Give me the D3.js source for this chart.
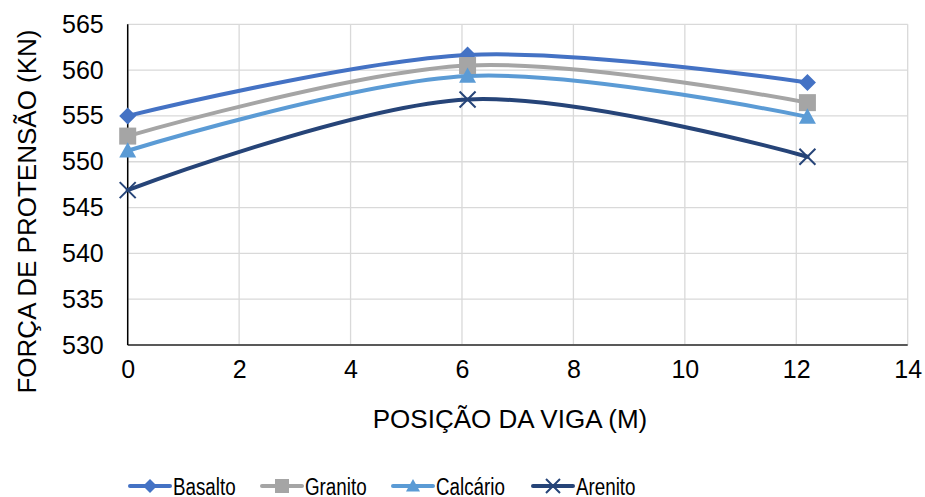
<!DOCTYPE html>
<html>
<head>
<meta charset="utf-8">
<script src="https://cdn.jsdelivr.net/npm/d3@7"></script>
<style>
  body { margin: 0; background: #fff; }
  svg { font-family: "Liberation Sans", Arial, sans-serif; }
</style>
</head>
<body>
<div id="chart"></div>
<script>
// positions along the beam (m)
const posicoes = [0, 6.1, 12.2];

const basalto = [555.0, 561.65, 558.65];
const granito = [552.8, 560.5, 556.45];
const calcario = [551.2, 559.35, 554.9];
const arenito = [546.9, 556.8, 550.55];

const seriesNames = ['Basalto', 'Granito', 'Calcário', 'Arenito'];
const xTicks = [0, 2, 4, 6, 8, 10, 12, 14];
const yTicks = [530, 535, 540, 545, 550, 555, 560, 565];

const width = 925, height = 497;
const margin = {top: 24.3, right: 17.3, bottom: 152, left: 127.7};

const series = [
  {name: seriesNames[0], values: basalto, color: '#4472C4', marker: 'diamond'},
  {name: seriesNames[1], values: granito, color: '#A5A5A5', marker: 'square'},
  {name: seriesNames[2], values: calcario, color: '#5B9BD5', marker: 'triangle'},
  {name: seriesNames[3], values: arenito, color: '#264478', marker: 'cross'}
];

const svg = d3.select('#chart')
  .append('svg')
    .attr('width', width)
    .attr('height', height);

const x = d3.scaleLinear()
  .domain([0, 14])
  .range([margin.left, width - margin.right]);

const y = d3.scaleLinear()
  .domain([530, 565])
  .range([height - margin.bottom, margin.top]);

// gridlines
svg.append('g')
  .selectAll('line.h')
  .data(yTicks)
  .join('line')
    .attr('x1', x(0)).attr('x2', x(14))
    .attr('y1', d => y(d)).attr('y2', d => y(d))
    .attr('stroke', '#d9d9d9')
    .attr('stroke-width', 1.3);

svg.append('g')
  .selectAll('line.v')
  .data(xTicks)
  .join('line')
    .attr('x1', d => x(d)).attr('x2', d => x(d))
    .attr('y1', y(530)).attr('y2', y(565))
    .attr('stroke', '#d9d9d9')
    .attr('stroke-width', 1.3);

// axes lines
svg.append('line')
  .attr('x1', x(0)).attr('x2', x(14))
  .attr('y1', y(530)).attr('y2', y(530))
  .attr('stroke', '#595959')
  .attr('stroke-width', 2);

svg.append('line')
  .attr('x1', x(0)).attr('x2', x(0))
  .attr('y1', y(530)).attr('y2', y(565))
  .attr('stroke', '#000')
  .attr('stroke-width', 1.5);

// tick labels
const yAxis = svg.append('g')
  .attr('transform', `translate(${x(0)},0)`)
  .call(d3.axisLeft(y).tickValues(yTicks).tickSize(0).tickPadding(24));
yAxis.select('.domain').remove();
yAxis.selectAll('text')
  .attr('font-size', 25)
  .attr('font-family', '"Liberation Sans", Arial, sans-serif')
  .attr('fill', '#000');

const xAxis = svg.append('g')
  .attr('transform', `translate(0,${y(530)})`)
  .call(d3.axisBottom(x).tickValues(xTicks).tickSize(0).tickPadding(15));
xAxis.select('.domain').remove();
xAxis.selectAll('text')
  .attr('font-size', 25)
  .attr('font-family', '"Liberation Sans", Arial, sans-serif')
  .attr('fill', '#000');

// axis titles
svg.append('text')
  .attr('x', 510)
  .attr('y', 428)
  .attr('text-anchor', 'middle')
  .attr('font-size', 26)
  .attr('fill', '#000')
  .text('POSIÇÃO DA VIGA (M)');

svg.append('text')
  .attr('transform', 'translate(36,211.5) rotate(-90)')
  .attr('text-anchor', 'middle')
  .attr('font-size', 26)
  .attr('fill', '#000')
  .text('FORÇA DE PROTENSÃO (KN)');

// markers
function drawMarker(g, type, color, size) {
  const s = size / 2;
  if (type === 'diamond') {
    g.append('path').attr('d', `M0,${-s}L${s},0L0,${s}L${-s},0Z`).attr('fill', color);
  } else if (type === 'square') {
    g.append('rect').attr('x', -s).attr('y', -s).attr('width', size).attr('height', size).attr('fill', color);
  } else if (type === 'triangle') {
    g.append('path').attr('d', `M0,${-s}L${s},${s * 0.8}L${-s},${s * 0.8}Z`).attr('fill', color);
  } else {
    g.append('path').attr('d', `M${-s},${-s}L${s},${s}M${-s},${s}L${s},${-s}`)
      .attr('stroke', color).attr('stroke-width', 2).attr('fill', 'none');
  }
}

const line = d3.line()
  .curve(d3.curveCardinal.tension(0))
  .x((d, i) => x(posicoes[i]))
  .y(d => y(d));

series.forEach(s => {
  svg.append('path')
    .datum(s.values)
    .attr('fill', 'none')
    .attr('stroke', s.color)
    .attr('stroke-width', 4)
    .attr('stroke-linecap', 'round')
    .attr('d', line);
});

series.forEach(s => {
  s.values.forEach((v, i) => {
    const g = svg.append('g').attr('transform', `translate(${x(posicoes[i])},${y(v)})`);
    drawMarker(g, s.marker, s.color, s.marker === 'cross' ? 16 : 17);
  });
});

// legend (text is condensed like Arial Narrow)
const legendX = [130, 262, 393, 533];
const legend = svg.append('g');
series.forEach((s, i) => {
  const g = legend.append('g').attr('transform', `translate(${legendX[i]},486)`);
  g.append('line')
    .attr('x1', 0).attr('x2', 40)
    .attr('stroke', s.color)
    .attr('stroke-width', 4)
    .attr('stroke-linecap', 'round');
  const m = g.append('g').attr('transform', 'translate(20,0)');
  drawMarker(m, s.marker, s.color, 14);
  g.append('text')
    .attr('transform', 'translate(43,8.5) scale(0.8,1)')
    .attr('font-size', 23.5)
    .attr('fill', '#000')
    .text(s.name);
});
</script>
</body>
</html>
